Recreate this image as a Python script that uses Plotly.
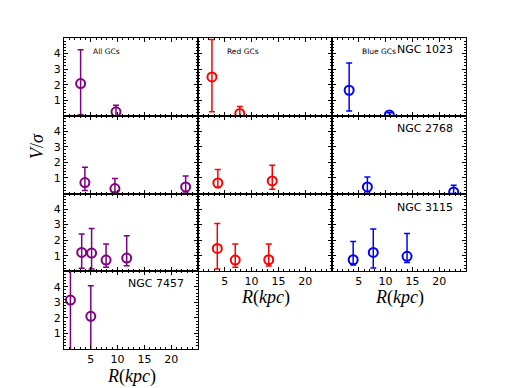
import plotly.graph_objects as go
from plotly.subplots import make_subplots

# V/sigma against galactocentric radius
galaxies = ["NGC 1023", "NGC 2768", "NGC 3115", "NGC 7457"]
samples = ["All GCs", "Red GCs", "Blue GCs"]
colors = ["#800080", "#ff0000", "#0000ff"]

# NGC 1023
n1023_all_r = [3.1, 9.7]
n1023_all_v = [2.07, 0.25]
n1023_all_up = [2.18, 0.43]
n1023_all_dn = [2.0, 0.25]

n1023_red_r = [2.6, 7.8]
n1023_red_v = [2.5, 0.15]
n1023_red_up = [2.4, 0.45]
n1023_red_dn = [2.25, 0.15]

n1023_blue_r = [3.2, 10.7]
n1023_blue_v = [1.64, 0.05]
n1023_blue_up = [1.76, 0.15]
n1023_blue_dn = [1.34, 0.05]

# NGC 2768
n2768_all_r = [3.9, 9.5, 22.7]
n2768_all_v = [0.7, 0.32, 0.42]
n2768_all_up = [0.99, 0.64, 0.71]
n2768_all_dn = [0.5, 0.22, 0.32]

n2768_red_r = [3.7, 13.85]
n2768_red_v = [0.68, 0.81]
n2768_red_up = [0.86, 1.0]
n2768_red_dn = [0.3, 0.53]

n2768_blue_r = [6.6, 22.7]
n2768_blue_v = [0.42, 0.1]
n2768_blue_up = [0.64, 0.43]
n2768_blue_dn = [0.3, 0.1]

# NGC 3115
n3115_all_r = [3.3, 5.15, 7.85, 11.7]
n3115_all_v = [1.21, 1.17, 0.72, 0.85]
n3115_all_up = [1.18, 1.58, 1.03, 1.43]
n3115_all_dn = [1.02, 1.02, 0.47, 0.49]

n3115_red_r = [3.6, 6.95, 13.2]
n3115_red_v = [1.47, 0.72, 0.74]
n3115_red_up = [1.6, 1.03, 1.01]
n3115_red_dn = [1.32, 0.47, 0.4]

n3115_blue_r = [3.95, 7.7, 14.0]
n3115_blue_v = [0.74, 1.21, 0.96]
n3115_blue_up = [1.18, 1.5, 1.47]
n3115_blue_dn = [0.34, 1.0, 0.4]

# NGC 7457 (all GCs only)
n7457_all_r = [1.2, 5.0]
n7457_all_v = [3.15, 2.1]
n7457_all_up = [3.0, 1.97]
n7457_all_dn = [3.5, 2.5]

x_ticks = [5, 10, 15, 20]
y_ticks = [1, 2, 3, 4]

panels = [
    (1, 1, n1023_all_r, n1023_all_v, n1023_all_up, n1023_all_dn),
    (1, 2, n1023_red_r, n1023_red_v, n1023_red_up, n1023_red_dn),
    (1, 3, n1023_blue_r, n1023_blue_v, n1023_blue_up, n1023_blue_dn),
    (2, 1, n2768_all_r, n2768_all_v, n2768_all_up, n2768_all_dn),
    (2, 2, n2768_red_r, n2768_red_v, n2768_red_up, n2768_red_dn),
    (2, 3, n2768_blue_r, n2768_blue_v, n2768_blue_up, n2768_blue_dn),
    (3, 1, n3115_all_r, n3115_all_v, n3115_all_up, n3115_all_dn),
    (3, 2, n3115_red_r, n3115_red_v, n3115_red_up, n3115_red_dn),
    (3, 3, n3115_blue_r, n3115_blue_v, n3115_blue_up, n3115_blue_dn),
    (4, 1, n7457_all_r, n7457_all_v, n7457_all_up, n7457_all_dn),
]

W, H = 518, 388
OFF = 8  # the page body adds 8px of margin on the left and top
L, R, T, B = 64 - OFF, 466 - OFF, 38 - OFF, 349 - OFF

fig = make_subplots(
    rows=4, cols=3,
    horizontal_spacing=0, vertical_spacing=0,
    specs=[[{}, {}, {}], [{}, {}, {}], [{}, {}, {}], [{}, None, None]],
)

for row, col, r, v, up, dn in panels:
    c = colors[col - 1]
    fig.add_trace(
        go.Scatter(
            x=r, y=v, mode="markers",
            marker=dict(symbol="circle-open", size=9, color=c, line=dict(width=2, color=c)),
            error_y=dict(type="data", symmetric=False, array=up, arrayminus=dn,
                         color=c, thickness=1.5, width=3),
            showlegend=False,
        ),
        row=row, col=col,
    )

tick_font = dict(family="DejaVu Sans", size=11, color="black")
for row in range(1, 5):
    for col in range(1, 4):
        if row == 4 and col > 1:
            continue
        show_x = (row == 4) or (row == 3 and col > 1)
        fig.update_xaxes(
            range=[0, 25], tickvals=x_ticks, showticklabels=show_x,
            ticks="inside", ticklen=4, tickcolor="black", mirror="ticks",
            showline=True, linecolor="black", linewidth=1, showgrid=False, zeroline=False,
            minor=dict(ticks="inside", dtick=1, ticklen=2, tickcolor="black", showgrid=False),
            tickfont=tick_font, row=row, col=col,
        )
        fig.update_yaxes(
            range=[0, 5], tickvals=y_ticks, showticklabels=(col == 1),
            ticks="inside", ticklen=4, tickcolor="black", mirror="ticks",
            showline=True, linecolor="black", linewidth=1, showgrid=False, zeroline=False,
            minor=dict(ticks="inside", dtick=0.2, ticklen=2, tickcolor="black", showgrid=False),
            tickfont=tick_font, row=row, col=col,
        )


def px(x, y):
    # screen pixel in the reference -> paper coords
    return (x - OFF - L) / (R - L), (B - (y - OFF)) / (B - T)


def note(text, x, y, size, family="DejaVu Sans", anchor="center", angle=0):
    xp, yp = px(x, y)
    fig.add_annotation(
        text=text, x=xp, y=yp, xref="paper", yref="paper", showarrow=False,
        xanchor=anchor, yanchor="middle", textangle=angle,
        font=dict(family=family, size=size, color="black"),
    )


note(samples[0], 91, 51, 7.5, anchor="left")
note(samples[1], 225, 51, 7.5, anchor="left")
note(samples[2], 360, 51, 7.5, anchor="left")
note(galaxies[0], 455, 50, 11, anchor="right")
note(galaxies[1], 455, 128, 11, anchor="right")
note(galaxies[2], 455, 207, 11, anchor="right")
note(galaxies[3], 186, 283, 11, anchor="right")

serif = "Liberation Serif"
note("<i>R</i>(<i>kpc</i>)", 131, 376, 18, family=serif)
note("<i>R</i>(<i>kpc</i>)", 265, 297, 18, family=serif)
note("<i>R</i>(<i>kpc</i>)", 399, 297, 18, family=serif)
note("<i>V</i>/<i>σ</i>", 37, 146, 18, family=serif, angle=-90)

fig.update_layout(
    width=W, height=H,
    margin=dict(l=L, r=W - R, t=T, b=H - B),
    paper_bgcolor="white", plot_bgcolor="white",
)

fig.write_html("out.html")
